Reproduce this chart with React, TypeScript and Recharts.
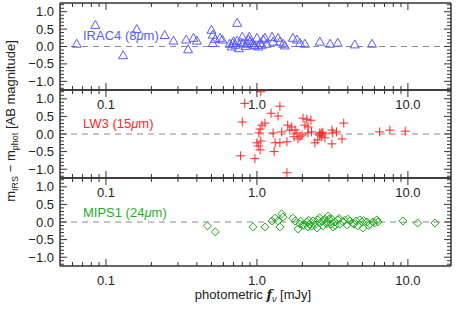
import React from 'react';
import { ScatterChart, Scatter, XAxis, YAxis, ReferenceLine } from 'recharts';

const W = 463;
const H = 309;
const PLOT_R = 451;
const X_DOMAIN = [0.0496, 19.3];
const Y_DOMAIN = [-1.25, 1.25];

// tick values
const xMajor = [0.1, 1, 10];
const xLabels = ['0.1', '1.0', '10.0'];
const xMinor = [0.06, 0.07, 0.08, 0.09, 0.2, 0.3, 0.4, 0.5, 0.6, 0.7, 0.8, 0.9, 2, 3, 4, 5, 6, 7, 8, 9];
const yMajor = [-1, -0.5, 0, 0.5, 1];
const yLabels = ['\u22121.0', '\u22120.5', '0.0', '0.5', '1.0'];
const yMinor = [-1.2, -1.1, -0.9, -0.8, -0.7, -0.6, -0.4, -0.3, -0.2, -0.1, 0.1, 0.2, 0.3, 0.4, 0.6, 0.7, 0.8, 0.9, 1.1, 1.2];

// f = photometric flux [mJy], d = m_IRS - m_phot
const irac4 = [
  { f: 0.064, d: 0.08 }, { f: 0.085, d: 0.62 }, { f: 0.13, d: -0.25 }, { f: 0.16, d: 0.5 },
  { f: 0.245, d: 0.33 }, { f: 0.28, d: 0.17 }, { f: 0.34, d: 0.2 }, { f: 0.35, d: -0.08 },
  { f: 0.38, d: 0.25 }, { f: 0.4, d: 0.17 }, { f: 0.5, d: 0.48 }, { f: 0.51, d: 0.34 },
  { f: 0.53, d: 0.22 }, { f: 0.57, d: 0.25 }, { f: 0.59, d: 0.2 }, { f: 0.51, d: 0.1 },
  { f: 0.66, d: 0.08 }, { f: 0.68, d: 0.0 }, { f: 0.69, d: 0.1 }, { f: 0.74, d: 0.68 },
  { f: 0.74, d: 0.17 }, { f: 0.76, d: -0.05 }, { f: 0.8, d: 0.28 }, { f: 0.81, d: 0.1 },
  { f: 0.86, d: 0.08 }, { f: 0.89, d: 0.28 }, { f: 0.93, d: 0.1 }, { f: 0.97, d: 0.03 },
  { f: 1.0, d: 0.25 }, { f: 1.05, d: 0.1 }, { f: 1.1, d: 0.2 }, { f: 1.13, d: 0.25 },
  { f: 1.16, d: 0.08 }, { f: 1.26, d: 0.28 }, { f: 1.28, d: 0.14 }, { f: 1.38, d: 0.25 },
  { f: 1.42, d: 0.14 }, { f: 1.49, d: 0.08 }, { f: 1.53, d: 0.03 }, { f: 1.73, d: 0.25 },
  { f: 1.84, d: 0.2 }, { f: 1.93, d: 0.1 }, { f: 2.08, d: 0.08 }, { f: 2.61, d: 0.14 },
  { f: 3.05, d: 0.08 }, { f: 3.43, d: 0.11 }, { f: 4.45, d: 0.06 }, { f: 5.78, d: 0.08 },
  { f: 0.72, d: 0.05 }, { f: 0.78, d: 0.12 }, { f: 0.84, d: 0.02 }, { f: 0.9, d: 0.15 },
  { f: 0.95, d: 0.05 }, { f: 1.02, d: 0.0 }, { f: 1.08, d: 0.05 }, { f: 0.7, d: 0.15 },
  { f: 0.88, d: 0.2 },
];

const lw3 = [
  { f: 0.78, d: -0.62 }, { f: 0.8, d: 0.34 }, { f: 0.83, d: 0.87 }, { f: 0.97, d: -0.7 },
  { f: 1.0, d: -0.25 }, { f: 1.02, d: -0.34 }, { f: 1.03, d: 0.03 }, { f: 1.05, d: 0.14 },
  { f: 1.05, d: -0.45 }, { f: 1.06, d: -0.2 }, { f: 1.06, d: 1.2 }, { f: 1.08, d: 0.25 },
  { f: 1.13, d: 0.31 }, { f: 1.24, d: 0.59 }, { f: 1.28, d: 0.03 }, { f: 1.3, d: -0.5 },
  { f: 1.32, d: -0.25 }, { f: 1.38, d: 0.51 }, { f: 1.42, d: 0.79 }, { f: 1.42, d: -0.25 },
  { f: 1.46, d: 0.06 }, { f: 1.58, d: -0.22 }, { f: 1.58, d: -1.1 }, { f: 1.6, d: 0.25 },
  { f: 1.65, d: 0.11 }, { f: 1.7, d: 0.2 }, { f: 1.76, d: -0.08 }, { f: 1.79, d: 0.11 },
  { f: 1.84, d: 0.03 }, { f: 1.87, d: -0.14 }, { f: 1.93, d: -0.08 }, { f: 1.99, d: -0.03 },
  { f: 2.02, d: 0.45 }, { f: 2.08, d: 0.25 }, { f: 2.14, d: 0.42 }, { f: 2.18, d: 0.2 },
  { f: 2.18, d: 0.03 }, { f: 2.28, d: 0.39 }, { f: 2.3, d: 0.06 }, { f: 2.42, d: -0.25 },
  { f: 2.53, d: -0.17 }, { f: 2.61, d: 0.03 }, { f: 2.69, d: -0.06 }, { f: 2.73, d: 0.03 },
  { f: 2.82, d: -0.11 }, { f: 3.14, d: 0.11 }, { f: 3.18, d: 0.03 }, { f: 3.37, d: 0.06 },
  { f: 3.14, d: -0.28 }, { f: 3.66, d: -0.14 }, { f: 3.76, d: 0.31 }, { f: 6.5, d: 0.06 },
  { f: 7.6, d: 0.11 }, { f: 9.6, d: 0.08 }, { f: 2.65, d: 0.0 }, { f: 2.7, d: 0.05 },
  { f: 2.6, d: -0.03 },
];

const mips1 = [
  { f: 0.47, d: -0.11 }, { f: 0.53, d: -0.28 }, { f: 0.94, d: -0.14 }, { f: 1.13, d: -0.14 },
  { f: 1.26, d: 0.03 }, { f: 1.32, d: 0.11 }, { f: 1.38, d: 0.03 }, { f: 1.42, d: -0.14 },
  { f: 1.46, d: 0.23 }, { f: 1.49, d: 0.14 }, { f: 1.73, d: 0.11 }, { f: 1.79, d: 0.03 },
  { f: 1.87, d: -0.2 }, { f: 1.93, d: -0.06 }, { f: 2.02, d: -0.08 }, { f: 2.14, d: 0.0 },
  { f: 2.18, d: -0.14 }, { f: 2.24, d: -0.06 }, { f: 2.35, d: 0.03 }, { f: 2.42, d: -0.08 },
  { f: 2.5, d: -0.17 }, { f: 2.53, d: 0.06 }, { f: 2.61, d: -0.03 }, { f: 2.74, d: -0.11 },
  { f: 2.82, d: 0.08 }, { f: 2.91, d: 0.0 }, { f: 2.95, d: 0.17 }, { f: 3.0, d: 0.08 },
  { f: 3.09, d: -0.06 }, { f: 3.19, d: -0.14 }, { f: 3.29, d: 0.0 }, { f: 3.44, d: 0.06 },
  { f: 3.55, d: -0.06 }, { f: 3.71, d: 0.0 }, { f: 3.95, d: -0.08 }, { f: 4.13, d: 0.03 },
  { f: 4.32, d: -0.03 }, { f: 4.53, d: 0.03 }, { f: 4.67, d: -0.11 }, { f: 4.96, d: 0.0 },
  { f: 5.03, d: -0.17 }, { f: 5.35, d: 0.0 }, { f: 5.6, d: -0.06 }, { f: 5.86, d: 0.0 },
  { f: 6.23, d: 0.06 }, { f: 6.33, d: 0.0 }, { f: 9.27, d: 0.03 }, { f: 11.6, d: -0.03 },
  { f: 15.1, d: -0.03 }, { f: 2.05, d: -0.1 }, { f: 2.2, d: 0.05 }, { f: 2.3, d: -0.12 },
  { f: 2.6, d: 0.12 }, { f: 2.9, d: -0.05 }, { f: 3.1, d: 0.1 }, { f: 3.3, d: -0.1 },
  { f: 3.8, d: 0.05 }, { f: 4.4, d: -0.06 }, { f: 5.1, d: 0.04 }, { f: 1.95, d: 0.02 },
  { f: 2.7, d: 0.02 }, { f: 3.5, d: 0.1 }, { f: 6.0, d: -0.03 }, { f: 5.5, d: -0.1 },
  { f: 4.8, d: 0.06 }, { f: 4.0, d: 0.08 },
];

const BLUE = '#5a5aff';
const RED = '#ff2626';
const GREEN = '#1fae1f';
const FRAME = '#333';
const FONT = '"Liberation Sans", Arial, sans-serif';

const frame = { stroke: FRAME, strokeWidth: 1.5 };

const XTick = (p: any) => {
  const { x, y, payload, side } = p;
  const v = payload.value;
  const i = xMajor.indexOf(v);
  const len = i >= 0 ? 7 : 4;
  const dir = side === 'bottom' ? -1 : 1;
  return (
    <g>
      <line x1={x} x2={x} y1={y} y2={y + dir * len} stroke={FRAME} strokeWidth={1} />
      {side === 'bottom' && i >= 0 && (
        <text x={x} y={y + 19} textAnchor="middle" fontSize={13} fill="#222" fontFamily={FONT}>
          {xLabels[i]}
        </text>
      )}
    </g>
  );
};

const YTick = (p: any) => {
  const { x, y, payload, side } = p;
  const v = payload.value;
  const i = yMajor.indexOf(v);
  const len = i >= 0 ? 7 : 4;
  const dir = side === 'left' ? 1 : -1;
  return (
    <g>
      <line x1={x} x2={x + dir * len} y1={y} y2={y} stroke={FRAME} strokeWidth={1} />
      {side === 'left' && i >= 0 && (
        <text x={x - 6} y={y + 4.5} textAnchor="end" fontSize={13} fill="#222" fontFamily={FONT}>
          {yLabels[i]}
        </text>
      )}
    </g>
  );
};

const triangle = (color: string) => (p: any) => (
  <path
    d={`M${p.cx - 4.5},${p.cy + 3.5}L${p.cx + 4.5},${p.cy + 3.5}L${p.cx},${p.cy - 4.5}Z`}
    fill="none"
    stroke={color}
    strokeWidth={1}
  />
);
const cross = (color: string) => (p: any) => (
  <path
    d={`M${p.cx - 4.5},${p.cy}H${p.cx + 4.5}M${p.cx},${p.cy - 4.5}V${p.cy + 4.5}`}
    fill="none"
    stroke={color}
    strokeWidth={1}
  />
);
const diamond = (color: string) => (p: any) => (
  <path
    d={`M${p.cx},${p.cy - 4}L${p.cx + 4},${p.cy}L${p.cx},${p.cy + 4}L${p.cx - 4},${p.cy}Z`}
    fill="none"
    stroke={color}
    strokeWidth={1}
  />
);

const xTicks = [...xMinor, ...xMajor];
const yTicks = [...yMinor, ...yMajor];

const Panel = ({ top, bottom, data, shape }: any) => (
  <div style={{ position: 'absolute', left: 0, top: 0 }}>
    <ScatterChart
      width={W}
      height={H}
      margin={{ top: top - 1, bottom: H - bottom - 1, left: 0, right: W - PLOT_R - 1 }}
    >
      <XAxis
        xAxisId="b"
        dataKey="f"
        type="number"
        scale="log"
        domain={X_DOMAIN}
        allowDataOverflow
        ticks={xTicks}
        interval={0}
        tickSize={0}
        tickMargin={0}
        height={1}
        axisLine={frame}
        tick={(p: any) => <XTick {...p} side="bottom" />}
      />
      <XAxis
        xAxisId="t"
        orientation="top"
        dataKey="f"
        type="number"
        scale="log"
        domain={X_DOMAIN}
        allowDataOverflow
        ticks={xTicks}
        interval={0}
        tickSize={0}
        tickMargin={0}
        height={1}
        axisLine={frame}
        tick={(p: any) => <XTick {...p} side="top" />}
      />
      <YAxis
        yAxisId="l"
        dataKey="d"
        type="number"
        domain={Y_DOMAIN}
        allowDataOverflow
        ticks={yTicks}
        interval={0}
        tickSize={0}
        tickMargin={0}
        width={60}
        axisLine={frame}
        tick={(p: any) => <YTick {...p} side="left" />}
      />
      <YAxis
        yAxisId="r"
        orientation="right"
        dataKey="d"
        type="number"
        domain={Y_DOMAIN}
        allowDataOverflow
        ticks={yTicks}
        interval={0}
        tickSize={0}
        tickMargin={0}
        width={1}
        axisLine={frame}
        tick={(p: any) => <YTick {...p} side="right" />}
      />
      <ReferenceLine xAxisId="b" yAxisId="l" y={0} stroke="#8a8a8a" strokeWidth={1.2} strokeDasharray="6 5" />
      <Scatter xAxisId="b" yAxisId="l" data={data} shape={shape} isAnimationActive={false} />
    </ScatterChart>
  </div>
);

export default function App() {
  return (
    <div style={{ position: 'absolute', left: 0, top: 0, width: W, height: H, background: '#fff' }}>
      <Panel top={3} bottom={90} data={irac4} shape={triangle(BLUE)} />
      <Panel top={90} bottom={178} data={lw3} shape={cross(RED)} />
      <Panel top={178} bottom={266} data={mips1} shape={diamond(GREEN)} />
      <svg width={W} height={H} style={{ position: 'absolute', left: 0, top: 0, pointerEvents: 'none' }}>
        <g fontFamily={FONT} fontSize={13}>
          <text x={83} y={39.5} fill={BLUE}>
            IRAC4 (8<tspan fontStyle="italic">μ</tspan>m)
          </text>
          <text x={83} y={128} fill={RED}>
            LW3 (15<tspan fontStyle="italic">μ</tspan>m)
          </text>
          <text x={83} y={216.5} fill={GREEN}>
            MIPS1 (24<tspan fontStyle="italic">μ</tspan>m)
          </text>
          <text transform="translate(15,121) rotate(-90)" textAnchor="middle" fill="#222">
            m<tspan dy={3} fontSize={9}>IRS</tspan>
            <tspan dy={-3}> {'\u2212'} m</tspan>
            <tspan dy={3} fontSize={9}>phot</tspan>
            <tspan dy={-3}> [AB magnitude]</tspan>
          </text>
          <text x={253} y={299} textAnchor="middle" fill="#222">
            photometric <tspan fontStyle="italic" fontWeight="bold" fontFamily="'DejaVu Serif', serif">f</tspan>
            <tspan dy={3} fontSize={9} fontStyle="italic">ν</tspan>
            <tspan dy={-3}> [mJy]</tspan>
          </text>
        </g>
      </svg>
    </div>
  );
}
